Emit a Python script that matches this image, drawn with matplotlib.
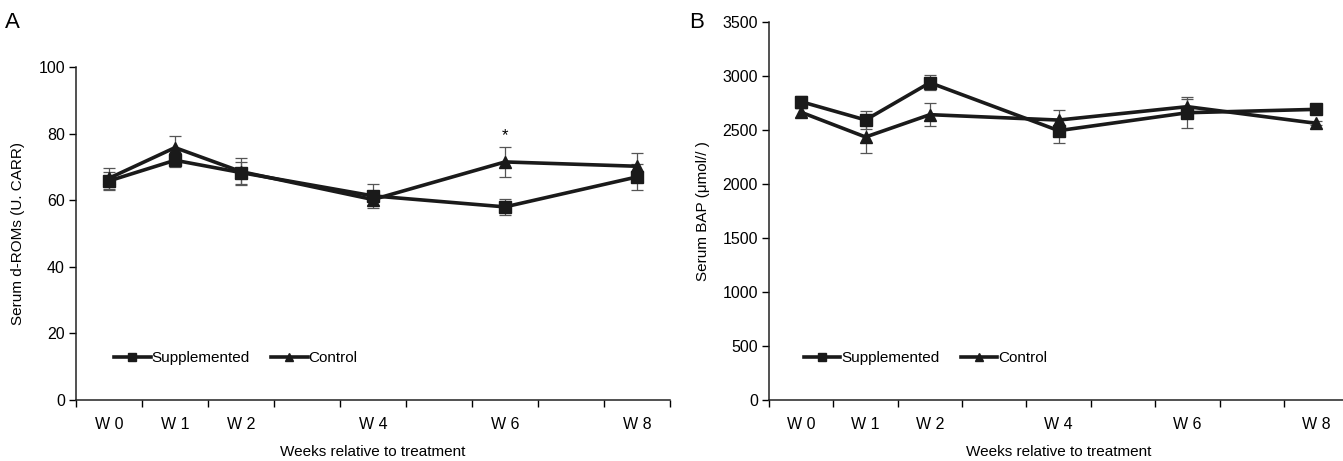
import matplotlib
matplotlib.use('Agg')
import matplotlib.pyplot as plt
import numpy as np

plt.rcParams['font.family'] = ['Liberation Sans', 'DejaVu Sans']

# week index on a 9-slot category axis (W0..W8, only some labelled)
weeks = [0, 1, 2, 4, 6, 8]
week_labels = ['W 0', 'W 1', 'W 2', 'W 4', 'W 6', 'W 8']

# Panel A: serum d-ROMs (U. CARR)
roms_supp = [65.8, 72.0, 68.3, 61.3, 58.0, 67.0]
roms_supp_err = [2.7, 2.0, 3.3, 3.5, 2.4, 4.0]
roms_ctrl = [66.6, 75.8, 68.6, 60.2, 71.5, 70.2]
roms_ctrl_err = [3.2, 3.4, 4.0, 1.7, 4.4, 4.1]

# Panel B: serum BAP (umol/l)
bap_supp = [2762, 2593, 2938, 2494, 2660, 2691]
bap_supp_err = [55, 85, 67, 110, 145, 20]
bap_ctrl = [2664, 2435, 2642, 2592, 2716, 2562]
bap_ctrl_err = [40, 150, 105, 90, 70, 20]

LINE = '#1a1a1a'
ERR = '#555555'


def drawPanel(ax, supp, supp_err, ctrl, ctrl_err, ymax, ystep):
    ax.errorbar(weeks, supp, yerr=supp_err, fmt='none', ecolor=ERR,
                elinewidth=0.9, capsize=4, capthick=0.9, zorder=2)
    ax.errorbar(weeks, ctrl, yerr=ctrl_err, fmt='none', ecolor=ERR,
                elinewidth=0.9, capsize=4, capthick=0.9, zorder=2)
    ax.plot(weeks, supp, color=LINE, lw=2.6, marker='s', ms=8,
            label='Supplemented', zorder=3)
    ax.plot(weeks, ctrl, color=LINE, lw=2.6, marker='^', ms=8,
            label='Control', zorder=3)

    ax.set_xlim(-0.5, 8.5)
    ax.set_ylim(0, ymax)
    ax.set_yticks(np.arange(0, ymax + 1, ystep))
    ax.set_xticks(weeks)
    ax.set_xticklabels(week_labels)
    ax.set_xticks(np.arange(-0.5, 9, 1), minor=True)
    ax.tick_params(axis='x', which='major', length=0, pad=12, labelsize=11.5)
    ax.tick_params(axis='x', which='minor', length=5, width=1, direction='out')
    ax.tick_params(axis='y', length=5, width=1, labelsize=11.5, pad=3)
    for s in ['top', 'right']:
        ax.spines[s].set_visible(False)
    for s in ['left', 'bottom']:
        ax.spines[s].set_linewidth(1.1)
        ax.spines[s].set_color('#222222')
    ax.set_xlabel('Weeks relative to treatment', fontsize=11)


fig = plt.figure(figsize=(13.43, 4.61), dpi=100)
ax1 = fig.add_axes([0.0566, 0.1323, 0.4423, 0.7223])
ax2 = fig.add_axes([0.5726, 0.1323, 0.4313, 0.8200])

drawPanel(ax1, roms_supp, roms_supp_err, roms_ctrl, roms_ctrl_err, 100, 20)
drawPanel(ax2, bap_supp, bap_supp_err, bap_ctrl, bap_ctrl_err, 3500, 500)

ax1.text(6, 79.5, '*', ha='center', va='center', fontsize=12)

ax1.set_ylabel('Serum d-ROMs (U. CARR)', fontsize=11)
ax2.set_ylabel('Serum BAP (μmol// )', fontsize=11)
ax1.yaxis.set_label_coords(-0.086, 0.5)
ax2.yaxis.set_label_coords(-0.102, 0.5)
ax1.xaxis.set_label_coords(0.5, -0.135)
ax2.xaxis.set_label_coords(0.5, -0.119)

for ax, (lx, ly) in [(ax1, (0.064, 0.126)), (ax2, (0.06, 0.111))]:
    ax.legend(loc='center left', bbox_to_anchor=(lx, ly), ncol=2,
              frameon=False, fontsize=11, handlelength=2.4,
              handletextpad=0.05, columnspacing=1.4, borderpad=0,
              borderaxespad=0, markerscale=0.7)

fig.text(0.009, 0.952, 'A', fontsize=16, ha='center', va='center')
fig.text(0.519, 0.952, 'B', fontsize=16, ha='center', va='center')

fig.savefig('out.png', dpi=100)
